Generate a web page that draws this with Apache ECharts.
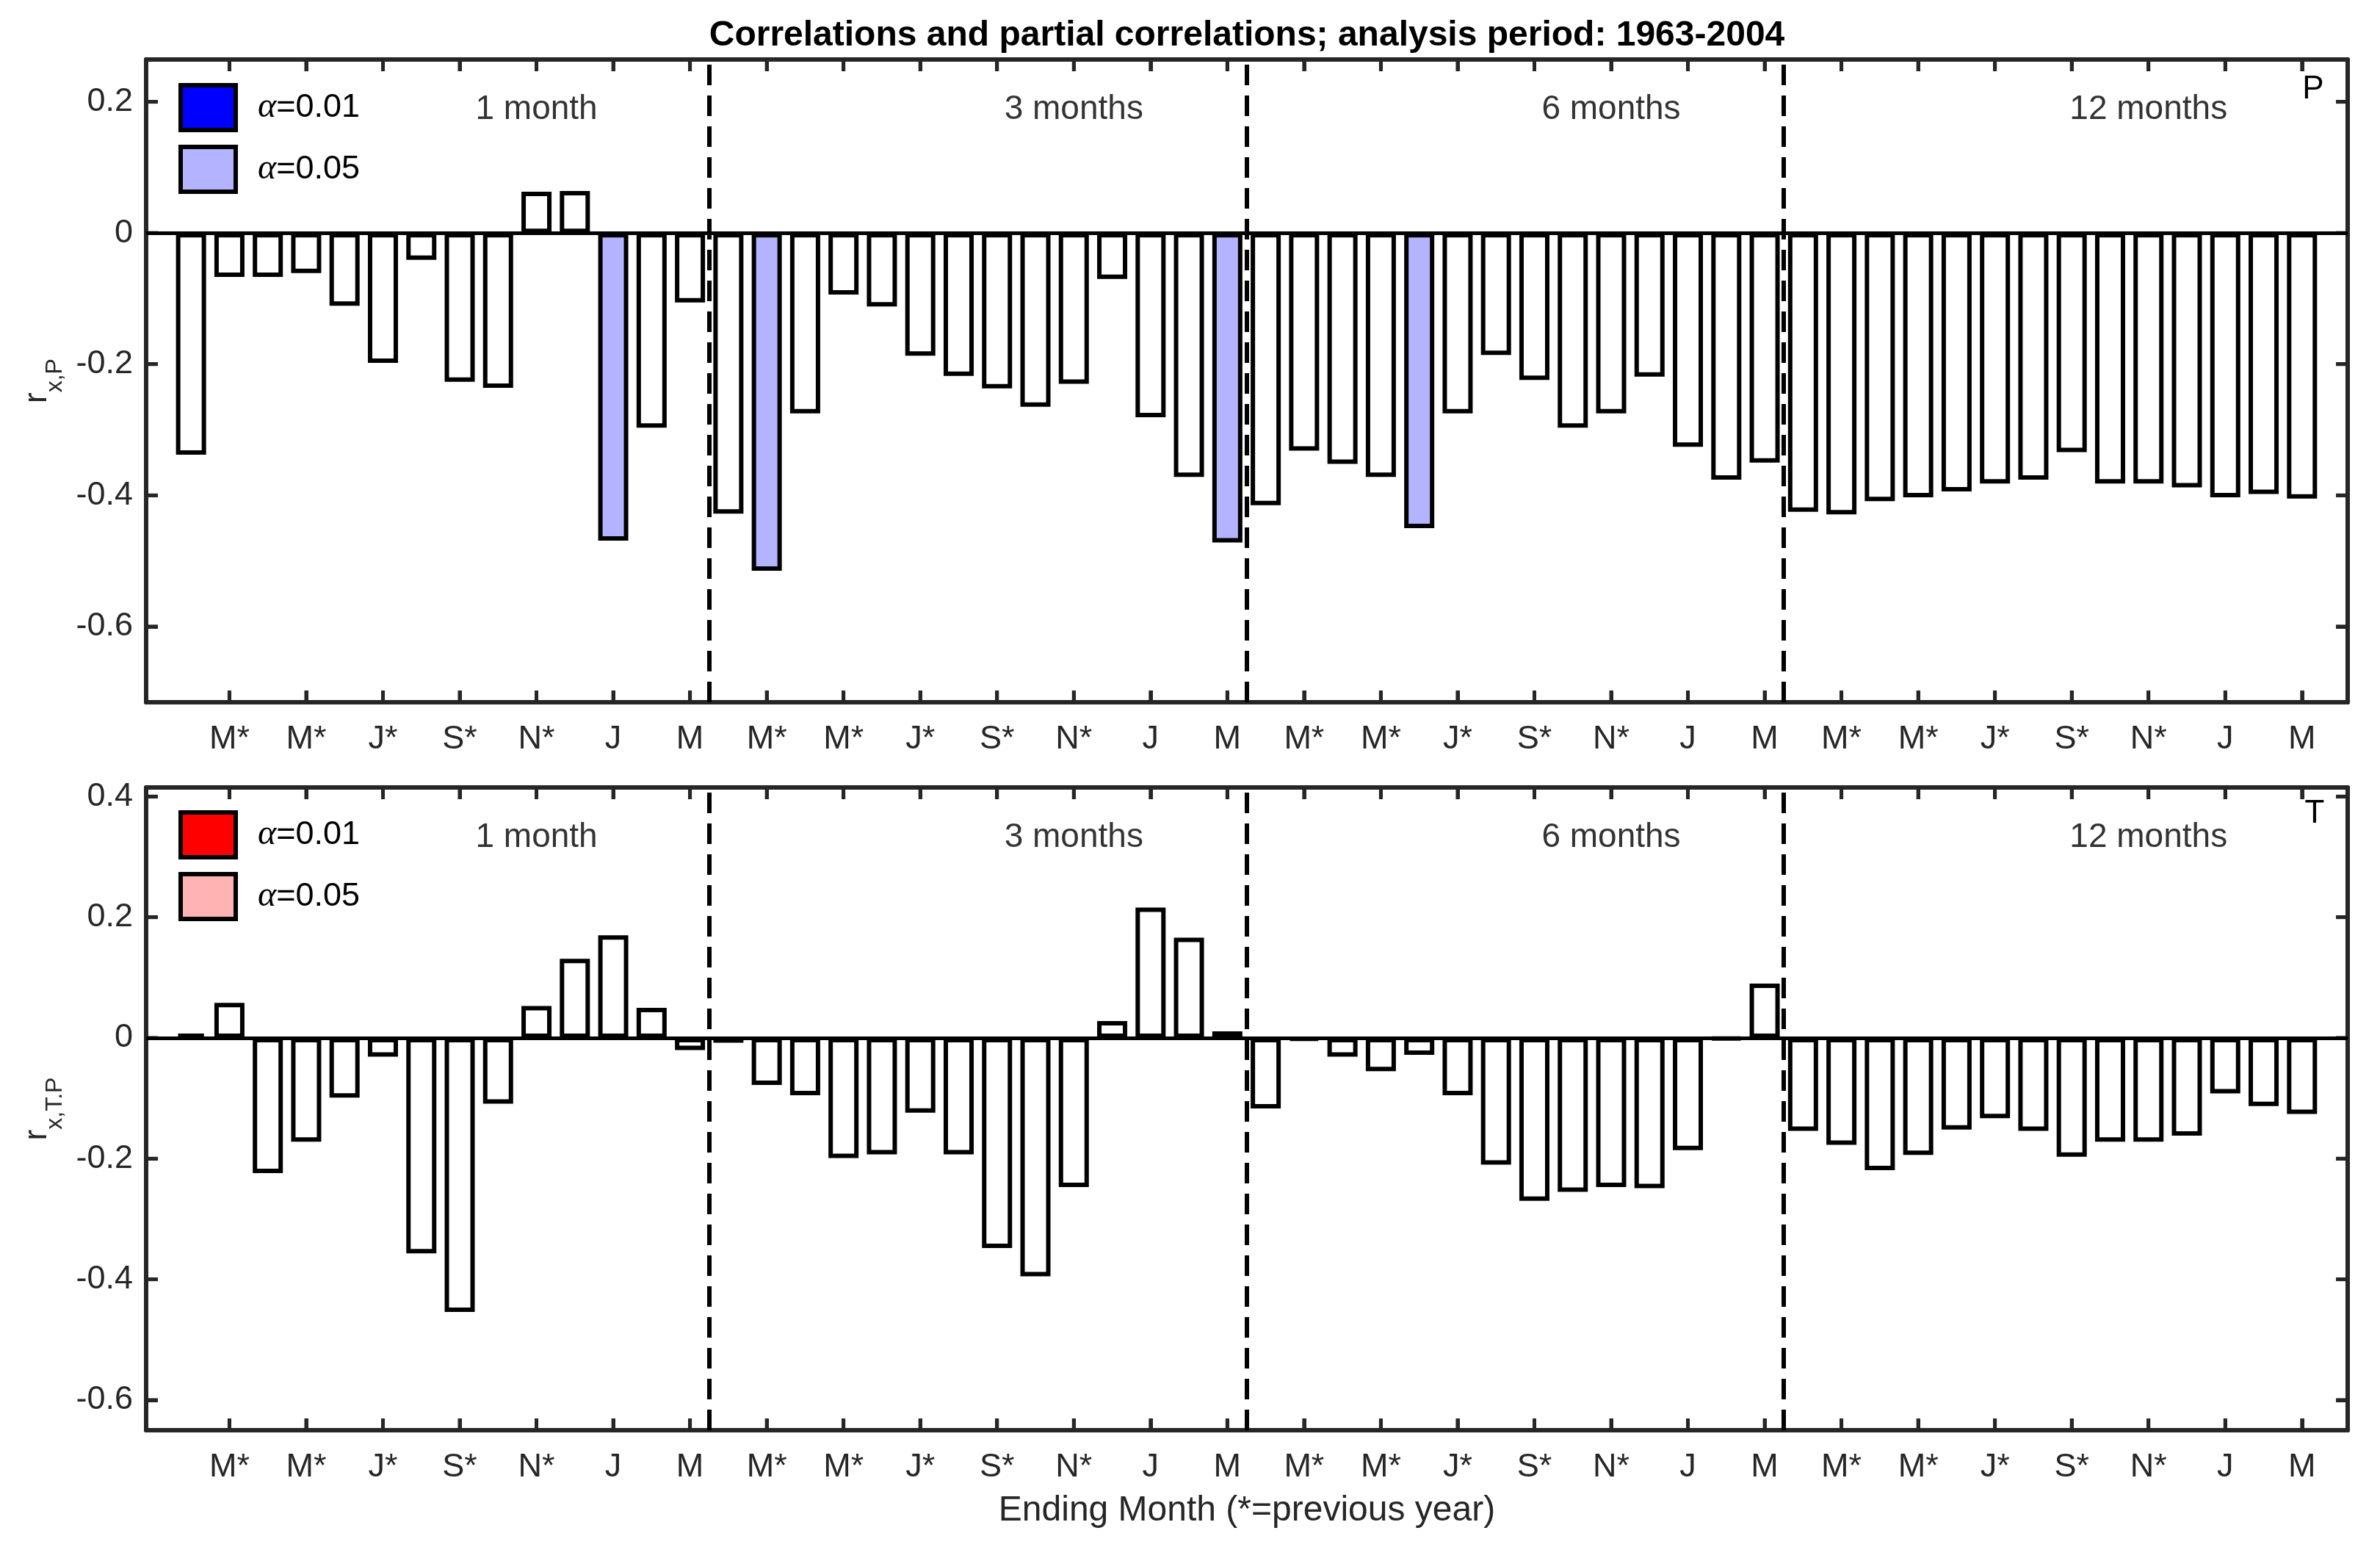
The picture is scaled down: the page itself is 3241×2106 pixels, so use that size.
<!DOCTYPE html>
<html>
<head>
<meta charset="utf-8">
<title>Correlations and partial correlations</title>
<script src="https://cdn.jsdelivr.net/npm/echarts@6/dist/echarts.min.js"></script>
<style>
    html, body { margin: 0; padding: 0; background: #fff; }
    #chart { width: 3241px; height: 2106px; }
</style>
</head>
<body>
<div id="chart"></div>
<script>
    // tick labels (every second month, 14 months per window) and window names
    var monthTicks = ['M*', 'M*', 'J*', 'S*', 'N*', 'J', 'M'];
    var groupNames = ['1 month', '3 months', '6 months', '12 months'];
    var monthsPerGroup = 14;

    // correlation with P, 56 bars (4 windows x 14 ending months)
    var pCorr = [
        -0.338, -0.067, -0.067, -0.061, -0.111, -0.198, -0.041, -0.227, -0.236, 0.063, 0.064, -0.469, -0.297, -0.106,
        -0.428, -0.515, -0.275, -0.094, -0.112, -0.187, -0.218, -0.237, -0.265, -0.230, -0.070, -0.281, -0.372, -0.472,
        -0.415, -0.332, -0.352, -0.372, -0.450, -0.275, -0.186, -0.224, -0.297, -0.275, -0.219, -0.326, -0.376, -0.350,
        -0.425, -0.429, -0.409, -0.403, -0.394, -0.382, -0.376, -0.334, -0.382, -0.382, -0.388, -0.403, -0.398, -0.405
    ];
    // bar numbers significant at alpha = 0.01 / 0.05
    var pSig01 = [];
    var pSig05 = [12, 16, 28, 33];

    // partial correlation with T (controlling for P)
    var tCorr = [
        0.007, 0.058, -0.224, -0.172, -0.099, -0.031, -0.357, -0.454, -0.109, 0.053, 0.131, 0.170, 0.050, -0.020,
        -0.008, -0.078, -0.095, -0.199, -0.193, -0.124, -0.193, -0.348, -0.395, -0.247, 0.028, 0.216, 0.166, 0.011,
        -0.117, -0.003, -0.031, -0.055, -0.028, -0.095, -0.210, -0.270, -0.255, -0.247, -0.249, -0.186, -0.002, 0.090,
        -0.154, -0.177, -0.219, -0.194, -0.152, -0.133, -0.154, -0.197, -0.172, -0.172, -0.162, -0.092, -0.113, -0.126
    ];
    var tSig01 = [];
    var tSig05 = [];

    var pYTicks = [-0.6, -0.4, -0.2, 0, 0.2];
    var tYTicks = [-0.6, -0.4, -0.2, 0, 0.2, 0.4];

    var FONT = 'Liberation Sans, Arial, Helvetica, sans-serif';
    var AXIS_COLOR = '#262626';
    var X_MIN = -0.17, X_MAX = 57.19;
    var P_MIN = -0.7155, P_MAX = 0.2645;
    var T_MIN = -0.65, T_MAX = 0.415;
    var TICK_LEN = 16;

    var xTickPos = [];
    for (var k = 2; k <= pCorr.length; k += 2) xTickPos.push(k);

    var splitPos = [];
    for (var g = 1; g < groupNames.length; g++) splitPos.push(g * monthsPerGroup + 0.5);

    function fmtY(v) {
        return v === 0 ? '0' : String(+(+v).toFixed(1));
    }

    function fmtX(v) {
        return monthTicks[(Math.round(v) / 2 - 1) % monthTicks.length];
    }

    function tickOpt(values) {
        return {
            show: true, inside: true, length: TICK_LEN, customValues: values,
            lineStyle: { color: AXIS_COLOR, width: 5 }
        };
    }

    function xAxes(gridIndex, withName) {
        var lineStyle = { color: AXIS_COLOR, width: 6 };
        var bottom = {
            type: 'value', gridIndex: gridIndex, position: 'bottom',
            min: X_MIN, max: X_MAX,
            axisLine: { show: true, onZero: false, lineStyle: lineStyle },
            axisTick: tickOpt(xTickPos),
            axisLabel: {
                show: true, customValues: xTickPos, formatter: fmtX, margin: 28,
                fontSize: 45, fontFamily: FONT, color: AXIS_COLOR
            },
            splitLine: { show: false }
        };
        if (withName) {
            bottom.name = 'Ending Month (*=previous year)';
            bottom.nameLocation = 'middle';
            bottom.nameGap = 86;
            bottom.nameTextStyle = { fontSize: 48, fontFamily: FONT, color: AXIS_COLOR };
        }
        var top = {
            type: 'value', gridIndex: gridIndex, position: 'top',
            min: X_MIN, max: X_MAX,
            axisLine: { show: true, onZero: false, lineStyle: lineStyle },
            axisTick: tickOpt(xTickPos),
            axisLabel: { show: false, customValues: xTickPos },
            splitLine: { show: false }
        };
        return [bottom, top];
    }

    function yAxes(gridIndex, min, max, ticks, sub) {
        var lineStyle = { color: AXIS_COLOR, width: 6 };
        var left = {
            type: 'value', gridIndex: gridIndex, position: 'left',
            min: min, max: max,
            name: '{r|r}{s|' + sub + '}',
            nameLocation: 'middle', nameRotate: 90, nameGap: 108,
            nameTextStyle: {
                color: AXIS_COLOR, fontFamily: FONT,
                rich: {
                    r: { fontSize: 44, fontFamily: FONT, color: AXIS_COLOR, verticalAlign: 'top' },
                    s: { fontSize: 32, fontFamily: FONT, color: AXIS_COLOR, verticalAlign: 'bottom', padding: [30, 0, 0, 0] }
                }
            },
            axisLine: { show: true, onZero: false, lineStyle: lineStyle },
            axisTick: tickOpt(ticks),
            axisLabel: {
                show: true, customValues: ticks, formatter: fmtY, margin: 18,
                fontSize: 45, fontFamily: FONT, color: AXIS_COLOR
            },
            splitLine: { show: false }
        };
        var right = {
            type: 'value', gridIndex: gridIndex, position: 'right',
            min: min, max: max,
            axisLine: { show: true, onZero: false, lineStyle: lineStyle },
            axisTick: tickOpt(ticks),
            axisLabel: { show: false, customValues: ticks },
            splitLine: { show: false }
        };
        return [left, right];
    }

    // inward box ticks drawn as custom series, positioned by api.coord
    function tickSeries(key, axisIdx, yMin, yMax, yTicks) {
        function line(x1, y1, x2, y2) {
            return {
                type: 'line',
                shape: { x1: x1, y1: y1, x2: x2, y2: y2 },
                style: { stroke: AXIS_COLOR, lineWidth: 5 }
            };
        }
        return [{
            name: key + ':xticks',
            type: 'custom',
            xAxisIndex: axisIdx, yAxisIndex: axisIdx,
            silent: true, clip: false, z: 3,
            data: xTickPos.map(function(v) { return [v, 0]; }),
            renderItem: function(params, api) {
                var b = api.coord([api.value(0), yMin]);
                var t = api.coord([api.value(0), yMax]);
                return {
                    type: 'group',
                    children: [line(b[0], b[1], b[0], b[1] - TICK_LEN), line(t[0], t[1], t[0], t[1] + TICK_LEN)]
                };
            }
        }, {
            name: key + ':yticks',
            type: 'custom',
            xAxisIndex: axisIdx, yAxisIndex: axisIdx,
            silent: true, clip: false, z: 3,
            data: yTicks.map(function(v) { return [0, v]; }),
            renderItem: function(params, api) {
                var l = api.coord([X_MIN, api.value(1)]);
                var r = api.coord([X_MAX, api.value(1)]);
                return {
                    type: 'group',
                    children: [line(l[0], l[1], l[0] + TICK_LEN, l[1]), line(r[0], r[1], r[0] - TICK_LEN, r[1])]
                };
            }
        }];
    }

    // bars + legend-only series + window labels for one panel
    function panelSeries(key, corr, sig01, sig05, color01, color05, axisIdx, labelY) {
        var stack = 'stack' + key;
        var bars = corr.map(function(v, i) {
            var n = i + 1;
            var fill = '#ffffff';
            if (sig05.indexOf(n) >= 0) fill = color05;
            if (sig01.indexOf(n) >= 0) fill = color01;
            return { value: [n, v], itemStyle: { color: fill } };
        });

        var marks = splitPos.map(function(x) {
            return { xAxis: x, lineStyle: { color: '#000', width: 6, type: [28, 14] } };
        });
        marks.push({ yAxis: 0, lineStyle: { color: '#000', width: 5, type: 'solid' } });

        var groupLabels = groupNames.map(function(name, gi) {
            return [gi * monthsPerGroup + 10, labelY, name];
        });

        return [{
            name: key + ':bars',
            type: 'bar',
            xAxisIndex: axisIdx, yAxisIndex: axisIdx,
            stack: stack,
            barWidth: 41,
            data: bars,
            itemStyle: { borderColor: '#000', borderWidth: 6 },
            markLine: {
                silent: true, symbol: 'none', animation: false,
                label: { show: false },
                data: marks
            }
        }, {
            name: key + ':0.01', type: 'bar', stack: stack, barWidth: 41,
            xAxisIndex: axisIdx, yAxisIndex: axisIdx, data: [],
            itemStyle: { color: color01, borderColor: '#000', borderWidth: 6 }
        }, {
            name: key + ':0.05', type: 'bar', stack: stack, barWidth: 41,
            xAxisIndex: axisIdx, yAxisIndex: axisIdx, data: [],
            itemStyle: { color: color05, borderColor: '#000', borderWidth: 6 }
        }, {
            name: key + ':labels',
            type: 'scatter',
            xAxisIndex: axisIdx, yAxisIndex: axisIdx,
            symbolSize: 1,
            itemStyle: { color: 'rgba(0,0,0,0)' },
            silent: true,
            data: groupLabels,
            label: {
                show: true, position: 'inside',
                formatter: function(p) { return p.value[2]; },
                fontSize: 46, fontFamily: FONT, color: '#000'
            }
        }];
    }

    function legendFor(key, top) {
        return {
            orient: 'vertical', left: 238, top: top,
            itemWidth: 75, itemHeight: 61, itemGap: 17,
            icon: 'rect', selectedMode: false,
            data: [key + ':0.01', key + ':0.05'],
            itemStyle: { borderColor: '#000', borderWidth: 6 },
            formatter: function(name) {
                return '{g|}{a|\u03b1}=' + name.split(':')[1];
            },
            textStyle: {
                fontSize: 45, fontFamily: FONT, color: '#000',
                rich: {
                    g: { width: 25 },
                    a: { fontSize: 48, fontFamily: 'Liberation Serif, Times New Roman, serif', fontStyle: 'italic', color: '#000' }
                }
            }
        };
    }

    var myChart = echarts.init(document.getElementById('chart'));

    myChart.setOption({
        animation: false,
        backgroundColor: '#ffffff',
        grid: [
            { left: 199, top: 81, width: 2998, height: 875 },
            { left: 199, top: 1072, width: 2998, height: 875 }
        ],
        xAxis: xAxes(0, false).concat(xAxes(1, true)),
        yAxis: yAxes(0, P_MIN, P_MAX, pYTicks, 'x,P').concat(yAxes(1, T_MIN, T_MAX, tYTicks, 'x,T.P')),
        legend: [legendFor('P', 108), legendFor('T', 1098)],
        graphic: [{
            type: 'text',
            style: {
                text: 'Correlations and partial correlations; analysis period: 1963-2004',
                x: 1698, y: 49, textAlign: 'center', textVerticalAlign: 'middle',
                fontSize: 48, fontWeight: 'bold', fontFamily: FONT, fill: '#000'
            }
        }, {
            type: 'text',
            style: {
                text: 'P', x: 3150, y: 122, textAlign: 'center', textVerticalAlign: 'middle',
                fontSize: 44, fontFamily: FONT, fill: '#000'
            }
        }, {
            type: 'text',
            style: {
                text: 'T', x: 3152, y: 1108, textAlign: 'center', textVerticalAlign: 'middle',
                fontSize: 44, fontFamily: FONT, fill: '#000'
            }
        }],
        series: panelSeries('P', pCorr, pSig01, pSig05, '#0000ff', '#b3b3ff', 0, 0.188)
            .concat(panelSeries('T', tCorr, tSig01, tSig05, '#ff0000', '#ffb3b3', 2, 0.332))
            .concat(tickSeries('P', 0, P_MIN, P_MAX, pYTicks))
            .concat(tickSeries('T', 2, T_MIN, T_MAX, tYTicks))
    });
</script>
</body>
</html>
